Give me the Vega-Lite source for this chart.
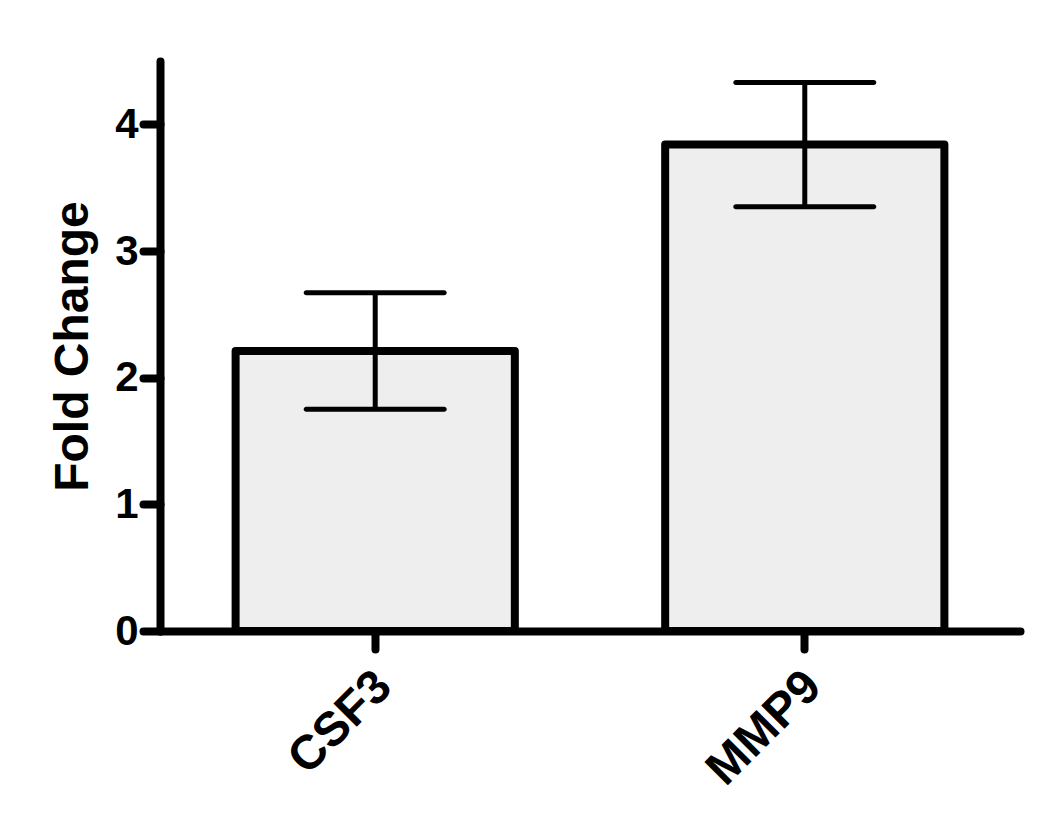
{
  "$schema": "https://vega.github.io/schema/vega-lite/v6.json",
  "width": 860,
  "height": 570,
  "autosize": {"type": "none"},
  "padding": {"left": 160, "top": 61, "right": 30, "bottom": 191},
  "background": "white",
  "config": {
    "view": {"stroke": null},
    "font": "Liberation Sans",
    "axis": {
      "domainColor": "black",
      "domainWidth": 8,
      "domainCap": "round",
      "tickColor": "black",
      "tickWidth": 8,
      "tickCap": "round",
      "labelColor": "black",
      "labelFont": "Liberation Sans",
      "labelFontWeight": "bold",
      "titleFont": "Liberation Sans",
      "titleFontWeight": "bold",
      "titleColor": "black",
      "grid": false
    }
  },
  "data": {
    "values": [
      {"gene": "CSF3", "mean": 2.21, "lower": 1.75, "upper": 2.67},
      {"gene": "MMP9", "mean": 3.84, "lower": 3.35, "upper": 4.33}
    ]
  },
  "encoding": {
    "x": {
      "field": "gene",
      "type": "nominal",
      "scale": {"paddingInner": 0.35, "paddingOuter": 0.176},
      "axis": {
        "title": null,
        "labelAngle": -45,
        "labelFontSize": 48,
        "tickSize": 18,
        "labelPadding": 13,
        "labelOffset": -8
      }
    }
  },
  "layer": [
    {
      "mark": {"type": "bar", "fill": "#eeeeee", "stroke": "black", "strokeWidth": 8, "strokeJoin": "round"},
      "encoding": {
        "y": {
          "field": "mean",
          "type": "quantitative",
          "scale": {"domain": [0, 4.5], "nice": false, "zero": true},
          "axis": {
            "title": "Fold Change",
            "titleFontSize": 48,
            "titlePadding": 17,
            "values": [0, 1, 2, 3, 4],
            "format": "d",
            "labelFontSize": 42,
            "tickSize": 17,
            "labelPadding": 5
          }
        }
      }
    },
    {
      "mark": {"type": "rule", "stroke": "black", "strokeWidth": 5},
      "encoding": {
        "y": {"field": "lower", "type": "quantitative"},
        "y2": {"field": "upper"}
      }
    },
    {
      "mark": {"type": "tick", "color": "black", "opacity": 1, "size": 143, "thickness": 5, "cornerRadius": 2.5},
      "encoding": {"y": {"field": "upper", "type": "quantitative"}}
    },
    {
      "mark": {"type": "tick", "color": "black", "opacity": 1, "size": 143, "thickness": 5, "cornerRadius": 2.5},
      "encoding": {"y": {"field": "lower", "type": "quantitative"}}
    }
  ]
}
